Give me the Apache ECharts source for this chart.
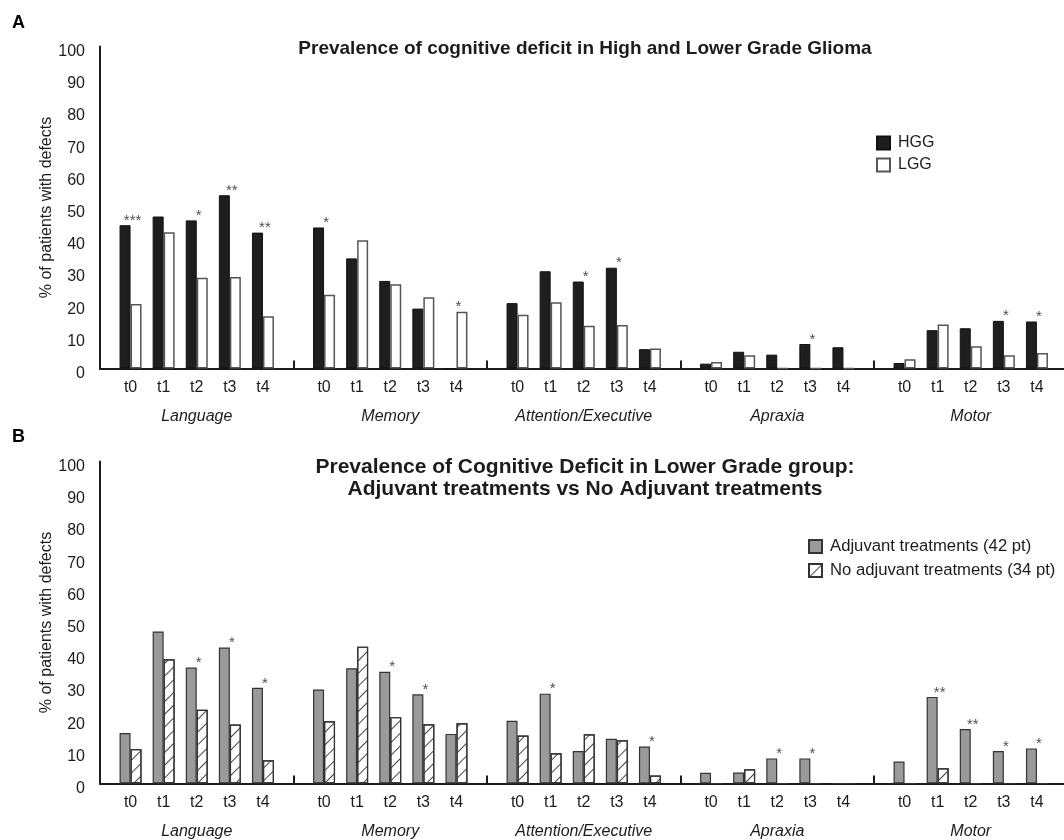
<!DOCTYPE html>
<html><head><meta charset="utf-8">
<script src="https://cdn.jsdelivr.net/npm/echarts@6/dist/echarts.min.js"></script>
<style>html,body{margin:0;padding:0;background:#fff}#c{width:1064px;height:840px}</style>
</head><body><div id="c"></div>
<script>
// ---------- DATA ----------
const timepoints = ['t0', 't1', 't2', 't3', 't4'];
const domains = ['Language', 'Memory', 'Attention/Executive', 'Apraxia', 'Motor'];

// Panel A: % of patients with deficits, per domain (rows) and time point (cols)
const hggValues = [
  [44.5, 47.2, 46.0, 53.8, 42.2],
  [43.8, 34.2, 27.2, 18.6, 0],
  [20.3, 30.2, 27.0, 31.3, 6.0],
  [1.5, 5.2, 4.3, 7.6, 6.6],
  [1.7, 11.9, 12.5, 14.8, 14.6]
];
const lggValues = [
  [20.0, 42.3, 28.2, 28.4, 16.2],
  [22.9, 39.8, 26.2, 22.1, 17.6],
  [16.7, 20.6, 13.3, 13.5, 6.2],
  [2.0, 4.1, 0, 0, 0],
  [2.9, 13.7, 6.9, 4.1, 4.8]
];
const sigA = [
  ['***', '', '*', '**', '**'],
  ['*', '', '', '', '*'],
  ['', '', '*', '*', ''],
  ['', '', '', '*', ''],
  ['', '', '', '*', '*']
];

// Panel B
const adjValues = [
  [15.7, 47.2, 36.0, 42.2, 29.7],
  [29.2, 35.8, 34.7, 27.7, 15.4],
  [19.5, 27.9, 10.1, 13.9, 11.5],
  [3.3, 3.4, 7.8, 7.8, 0],
  [6.8, 26.9, 16.9, 10.1, 10.9]
];
const noAdjValues = [
  [10.7, 38.6, 22.9, 18.3, 7.2],
  [19.3, 42.5, 20.6, 18.4, 18.7],
  [14.9, 9.4, 15.3, 13.4, 2.5],
  [0, 4.4, 0, 0, 0],
  [0, 4.7, 0, 0, 0]
];
const sigB = [
  ['', '', '*', '*', '*'],
  ['', '', '*', '*', ''],
  ['', '*', '', '', '*'],
  ['', '', '*', '*', ''],
  ['', '**', '**', '*', '*']
];

const titleA = 'Prevalence of cognitive deficit in High and Lower Grade Glioma';
const titleB = 'Prevalence of Cognitive Deficit in Lower Grade group:\nAdjuvant treatments vs No Adjuvant treatments';
const yName = '% of patients with defects';

// ---------- STYLE / LAYOUT ----------
const FONT = '"Liberation Sans", Arial, Helvetica, sans-serif';
const TXT = '#1c1c1c';
const GRID_LEFT = 100, SLOT = 193.5, GROUP_W = 165.5, GROUP_OFF = 14, PLOT_H = 322;

const option = {
  animation: false,
  backgroundColor: '#fff',
  textStyle: { fontFamily: FONT, color: TXT },
  grid: [], xAxis: [], yAxis: [], series: [], legend: [],
  graphic: [
    { type: 'text', left: 12, top: 14, style: { text: 'A', font: 'bold 18px ' + FONT, fill: '#000' } },
    { type: 'text', x: 585, y: 49, style: { text: titleA, font: 'bold 19px ' + FONT, fill: TXT, align: 'center', verticalAlign: 'middle' } },
    { type: 'text', left: 12, top: 428, style: { text: 'B', font: 'bold 18px ' + FONT, fill: '#000' } },
    { type: 'text', x: 585, y: 478, style: { text: titleB, font: 'bold 21px ' + FONT, fill: TXT, align: 'center', verticalAlign: 'middle', lineHeight: 22 } }
  ]
};

function buildPanel(p) {
  const common = { outerBoundsMode: 'none', containLabel: false };
  const g0 = option.grid.length;
  option.grid.push(Object.assign({ left: GRID_LEFT, top: p.top, width: SLOT * 5, height: PLOT_H }, common));
  option.xAxis.push({
    type: 'value', gridIndex: g0, min: 0, max: 5, interval: 1,
    axisLine: { show: true, onZero: false, lineStyle: { color: TXT, width: 2 } },
    axisTick: { show: true, inside: true, length: 8, lineStyle: { color: TXT, width: 2 } },
    axisLabel: { show: false }, splitLine: { show: false }
  });
  option.yAxis.push({
    type: 'value', gridIndex: g0, min: 0, max: 100, interval: 10,
    axisLine: { show: true, lineStyle: { color: TXT, width: 2 } },
    axisTick: { show: false }, splitLine: { show: false },
    axisLabel: {
      color: TXT, fontSize: 16, fontFamily: FONT, margin: 15,
      formatter: '{v|{value}}',
      rich: { v: { fontSize: 16, fontFamily: FONT, color: TXT, padding: [10, 0, 0, 0] } }
    },
    name: yName, nameLocation: 'middle', nameGap: 45, nameMoveOverlap: false,
    nameTextStyle: { color: TXT, fontSize: 16, fontFamily: FONT }
  });
  domains.forEach((d, g) => {
    const gi = option.grid.length;
    option.grid.push(Object.assign({ left: GRID_LEFT + SLOT * g + GROUP_OFF, top: p.top, width: GROUP_W, height: PLOT_H }, common));
    option.xAxis.push({
      type: 'category', gridIndex: gi, data: timepoints,
      axisLine: { show: false }, axisTick: { show: false }, splitLine: { show: false },
      axisLabel: { color: TXT, fontSize: 16, fontFamily: FONT, margin: 11 },
      name: d, nameLocation: 'middle', nameGap: 40,
      nameTextStyle: { color: TXT, fontSize: 16, fontStyle: 'italic', fontFamily: FONT }
    });
    option.yAxis.push({ type: 'value', gridIndex: gi, min: 0, max: 100, show: false, splitLine: { show: false } });
    p.series.forEach(s => {
      option.series.push({
        type: 'bar', name: s.name, xAxisIndex: gi, yAxisIndex: gi,
        data: s.values[g], barWidth: 11, barGap: '0%',
        itemStyle: s.style, emphasis: { disabled: true }
      });
    });
    option.series.push({
      type: 'scatter', xAxisIndex: gi, yAxisIndex: gi, symbolSize: 0, silent: true, z: 5,
      data: timepoints.map((t, i) => p.sig[g][i] ? Math.max(p.series[0].values[g][i], p.series[1].values[g][i]) : '-'),
      label: {
        show: true, position: 'top', distance: -3, offset: [2, 0],
        fontSize: 15, color: '#1a1a1a', fontFamily: FONT,
        formatter: prm => p.sig[g][prm.dataIndex]
      }
    });
  });
  option.legend.push(Object.assign({
    orient: 'vertical', itemWidth: 13, itemHeight: 13, icon: 'rect',
    data: p.series.map(s => s.name), selectedMode: false,
    textStyle: { color: TXT, fontSize: p.legendFont, fontFamily: FONT, padding: [0, 0, 0, 3] }
  }, p.legend));
}

buildPanel({
  top: 46.5,
  legend: { left: 871, top: 130, itemGap: 6 },
  legendFont: 16,
  sig: sigA,
  series: [
    { name: 'HGG', values: hggValues, style: { color: '#1e1e1e', borderColor: '#111', borderWidth: 1 } },
    { name: 'LGG', values: lggValues, style: { color: '#ffffff', borderColor: '#555', borderWidth: 1.5 } }
  ]
});
buildPanel({
  top: 461.5,
  legend: { left: 803, top: 533, itemGap: 7 },
  legendFont: 16.7,
  sig: sigB,
  series: [
    { name: 'Adjuvant treatments (42 pt)', values: adjValues, style: { color: '#9a9a9a', borderColor: '#333', borderWidth: 1.2 } },
    { name: 'No adjuvant treatments (34 pt)', values: noAdjValues, style: {
        color: '#ffffff', borderColor: '#333', borderWidth: 1.2,
        decal: { symbol: 'rect', symbolSize: 1, dashArrayX: [1, 0], dashArrayY: [1, 8], rotation: -Math.PI / 4, color: '#444', backgroundColor: 'rgba(0,0,0,0)' }
      } }
  ]
});

const chart = echarts.init(document.getElementById('c'), null, { renderer: 'canvas' });
chart.setOption(option);
</script>
</body></html>
